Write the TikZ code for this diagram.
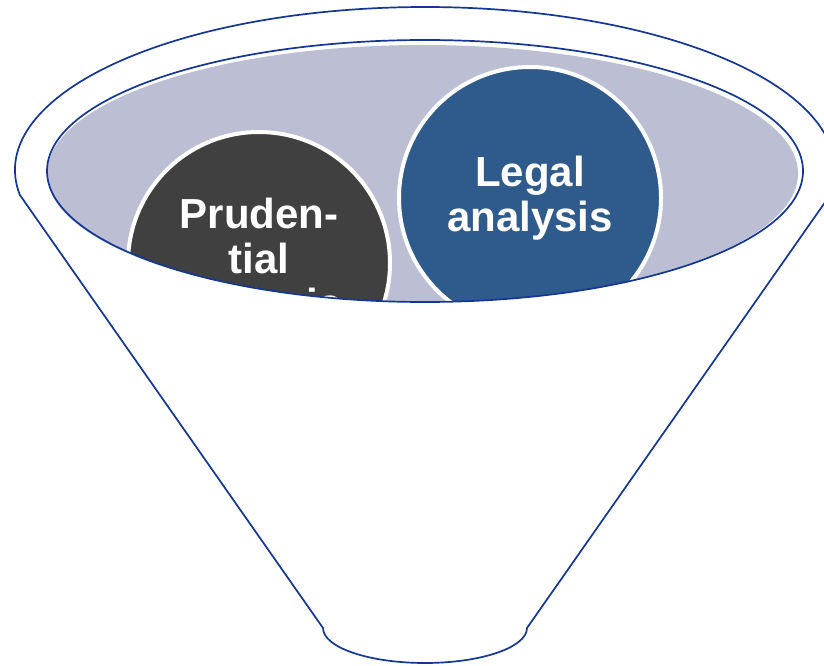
\documentclass[tikz,border=0pt]{standalone}
\usepackage{fontspec}
\setmainfont{Liberation Sans}
\usetikzlibrary{positioning,calc}
\definecolor{FBlue}{RGB}{20,55,150}
\definecolor{FLavender}{RGB}{188,190,212}
\definecolor{PGrey}{RGB}{64,64,64}
\definecolor{LBlue}{RGB}{47,91,140}

\begin{document}
\begin{tikzpicture}[x=1pt, y=1pt,
    rim/.style={draw=FBlue, line width=1.7pt},
    topic/.style={circle, draw=white, line width=4pt, minimum size=262pt, inner sep=0pt, align=center, text=white, font=\fontsize{42}{45}\selectfont\bfseries}
]
    \useasboundingbox (0,0) rectangle (824,665);
    % Funnel body
    \coordinate (mouth) at (425,495);
    \coordinate (spout) at (425,37);
    \draw[rim, fill=white] (mouth) ++(188.8:410 and 163)
        arc[start angle=188.8, end angle=-8.8, x radius=410, y radius=163]
        -- ($(spout)+(102,0)$)
        arc[start angle=0, end angle=-180, x radius=102, y radius=35] -- cycle;

    % Inner opening
    \fill[FLavender] (422.5,491.5) ellipse[x radius=375.5, y radius=128.5];
    \begin{scope}
        \clip (425,494) ellipse[x radius=378, y radius=131];
        \node[topic, fill=PGrey] (prud) at (259,402) {Pruden-\\tial\\analysis};
        \node[topic, fill=LBlue] (legal) at (530,467) {Legal\\analysis};
    \end{scope}
    \draw[rim] (425,494) ellipse[x radius=378, y radius=131];
\end{tikzpicture}
\end{document}
